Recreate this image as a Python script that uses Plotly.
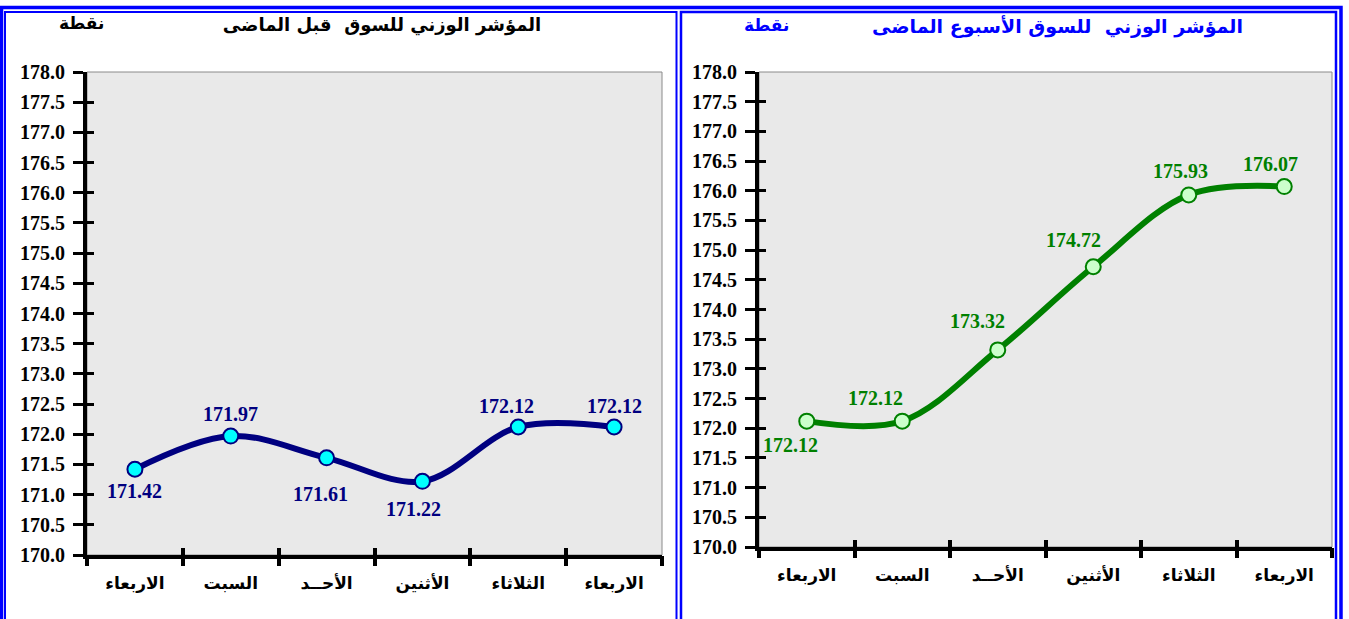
import plotly.graph_objects as go

W, H = 1349, 619

days = ["الاربعاء", "السبت", "الأحــد", "الأثنين", "الثلاثاء", "الاربعاء"]
left_values = [171.42, 171.97, 171.61, 171.22, 172.12, 172.12]
right_values = [172.12, 172.12, 173.32, 174.72, 175.93, 176.07]
y_ticks = [170 + 0.5 * i for i in range(17)]
y_ticktext = [f"{v:.1f}" for v in y_ticks]
left_title = "المؤشر الوزني للسوق  قبل الماضى"
right_title = "المؤشر الوزني  للسوق الأسبوع الماضى"
unit = "نقطة"

# label offsets (pixels) relative to points
left_shift = [(0, -22), (0, 22), (-6, -36), (-9, -28), (-12, 21), (0, 21)]
right_shift = [(-16, -24), (-27, 23), (-20, 29), (-20, 27), (-8, 24), (-14, 23)]

xs = list(range(len(days)))
bounds = [i - 0.5 for i in range(len(days) + 1)]

def px(x):
    return x / W

def py(y):
    return 1 - y / H

BLUE = "#0000ff"
NAVY = "#000080"
GREEN = "#008000"
SERIF = "Liberation Serif"
AR = "DejaVu Sans"

fig = go.Figure()
fig.add_trace(go.Scatter(
    x=xs, y=left_values, mode="lines+markers", xaxis="x", yaxis="y",
    line=dict(color=NAVY, width=6, shape="spline", smoothing=1.0),
    marker=dict(size=15, color="#00ffff", line=dict(color=NAVY, width=2)),
    hoverinfo="skip", showlegend=False))
fig.add_trace(go.Scatter(
    x=xs, y=right_values, mode="lines+markers", xaxis="x2", yaxis="y2",
    line=dict(color=GREEN, width=6, shape="spline", smoothing=1.0),
    marker=dict(size=15, color="#ccffcc", line=dict(color=GREEN, width=2)),
    hoverinfo="skip", showlegend=False))

# empty traces so that the overlay tick axes get drawn
for xa, ya in [("x3", "y"), ("x4", "y"), ("x5", "y2"), ("x6", "y2"), ("x", "y3"), ("x2", "y4")]:
    fig.add_trace(go.Scatter(x=[None], y=[None], xaxis=xa, yaxis=ya, mode="markers",
                             hoverinfo="skip", showlegend=False))

L_dom_x = [px(87), px(662)]
L_dom_y = [py(555), py(72)]
R_dom_x = [px(759), px(1332)]
R_dom_y = [py(547), py(72)]

xrange = [-0.5, len(days) - 0.5]

def xlab(domain, anchor):
    return dict(domain=domain, anchor=anchor, range=xrange, tickvals=xs, ticktext=days,
                ticks="", showline=True, linecolor="black", linewidth=4,
                showgrid=False, zeroline=False, automargin=False,
                tickfont=dict(family=AR, size=17, color="black", weight="bold"),
                ticklabelstandoff=10, fixedrange=True)

def xtick(over, anchor, direction, length):
    return dict(overlaying=over, anchor=anchor, range=xrange, tickvals=bounds,
                ticks=direction, ticklen=length, tickwidth=4, tickcolor="black",
                showticklabels=False, showline=False, showgrid=False, zeroline=False,
                side="bottom", fixedrange=True, automargin=False)

def ylab(domain, anchor):
    return dict(domain=domain, anchor=anchor, range=[170, 178], tickvals=y_ticks,
                ticktext=y_ticktext, ticks="outside", ticklen=10, tickwidth=3,
                tickcolor="black", showline=True, linecolor="black", linewidth=4,
                showgrid=False, zeroline=False, ticklabelstandoff=4, automargin=False,
                tickfont=dict(family=SERIF, size=20, color="black", weight="bold"),
                fixedrange=True)

def ytick(over, anchor):
    return dict(overlaying=over, anchor=anchor, range=[170, 178], tickvals=y_ticks,
                ticks="inside", ticklen=7, tickwidth=3, tickcolor="black",
                showticklabels=False, showline=False, showgrid=False, zeroline=False,
                side="left", fixedrange=True, automargin=False)

fig.update_layout(
    width=W, height=H,
    margin=dict(l=0, r=0, t=0, b=0, pad=0),
    paper_bgcolor="white", plot_bgcolor="#e9e9e9",
    title=dict(text=left_title, x=px(382), y=py(25), xanchor="center", yanchor="middle",
               xref="paper", yref="paper",
               font=dict(family=AR, size=18, color="black", weight="bold")),
    xaxis=xlab(L_dom_x, "y"),
    yaxis=ylab(L_dom_y, "x"),
    xaxis2=xlab(R_dom_x, "y2"),
    yaxis2=ylab(R_dom_y, "x2"),
    xaxis3=xtick("x", "y", "outside", 10),
    xaxis4=xtick("x", "y", "inside", 7),
    xaxis5=xtick("x2", "y2", "outside", 10),
    xaxis6=xtick("x2", "y2", "inside", 7),
    yaxis3=ytick("y", "x"),
    yaxis4=ytick("y2", "x2"),
)

shapes = []
# blue double borders
shapes.append(dict(type="rect", xref="paper", yref="paper",
                   x0=px(1.5), x1=px(1341), y0=py(640), y1=py(7.5),
                   line=dict(color=BLUE, width=3.5), layer="above"))
shapes.append(dict(type="rect", xref="paper", yref="paper",
                   x0=px(5), x1=px(676.5), y0=py(640), y1=py(12),
                   line=dict(color=BLUE, width=2), layer="above"))
shapes.append(dict(type="rect", xref="paper", yref="paper",
                   x0=px(681), x1=px(1336), y0=py(640), y1=py(12),
                   line=dict(color=BLUE, width=2.5), layer="above"))
# thin plot-area frames
for xr, yr in [("x", "y"), ("x2", "y2")]:
    shapes.append(dict(type="rect", xref=f"{xr} domain", yref=f"{yr} domain",
                       x0=0, x1=1, y0=0, y1=1,
                       line=dict(color="#8a8a8a", width=1), layer="below"))

annotations = []
for i, v in enumerate(left_values):
    dx, dy = left_shift[i]
    annotations.append(dict(x=i, y=v, xref="x", yref="y", text=f"{v:.2f}", showarrow=False,
                            xshift=dx, yshift=dy,
                            font=dict(family=SERIF, size=20, color=NAVY, weight="bold")))
for i, v in enumerate(right_values):
    dx, dy = right_shift[i]
    annotations.append(dict(x=i, y=v, xref="x2", yref="y2", text=f"{v:.2f}", showarrow=False,
                            xshift=dx, yshift=dy,
                            font=dict(family=SERIF, size=20, color=GREEN, weight="bold")))

annotations.append(dict(x=px(57), y=py(23), xref="paper", yref="paper", text=unit,
                        xanchor="left", yanchor="middle", showarrow=False,
                        font=dict(family=AR, size=17, color="black", weight="bold")))
annotations.append(dict(x=px(1245), y=py(27), xref="paper", yref="paper", text=right_title,
                        xanchor="right", yanchor="middle", showarrow=False,
                        font=dict(family=AR, size=19, color=BLUE, weight="bold")))
annotations.append(dict(x=px(767), y=py(25), xref="paper", yref="paper", text=unit,
                        xanchor="center", yanchor="middle", showarrow=False,
                        font=dict(family=AR, size=17, color=BLUE, weight="bold")))

fig.update_layout(shapes=shapes, annotations=annotations)

fig.write_html("out.html", config={"displayModeBar": False},
               post_script="document.body.style.margin='0';document.body.style.overflow='hidden';")
